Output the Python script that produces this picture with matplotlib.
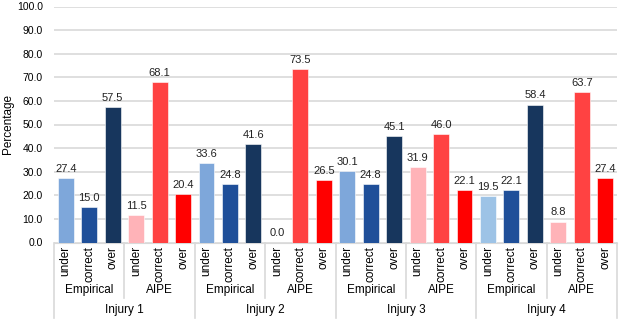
import matplotlib
matplotlib.use("Agg")
from matplotlib import pyplot as plt
import numpy as np

injuries = ["Injury 1", "Injury 2", "Injury 3", "Injury 4"]
methods = ["Empirical", "AIPE"]
outcomes = ["under", "correct", "over"]

empirical = [[27.4, 15.0, 57.5],
             [33.6, 24.8, 41.6],
             [30.1, 24.8, 45.1],
             [19.5, 22.1, 58.4]]
aipe = [[11.5, 68.1, 20.4],
        [0.0, 73.5, 26.5],
        [31.9, 46.0, 22.1],
        [8.8, 63.7, 27.4]]

emp_colors = ["#7ea7da", "#1f4f99", "#17365d"]
aipe_colors = ["#ffb3b8", "#ff4242", "#ff0000"]

plt.rcParams['font.family'] = ['Liberation Sans', 'DejaVu Sans']

fig = plt.figure(figsize=(6.23, 3.2), dpi=100)
ax = fig.add_axes([54/623, 1-242.5/320, 563/623, 236/320])

values = []
colors = []
for i in range(4):
    values += empirical[i] + aipe[i]
    c = list(emp_colors)
    if i == 3:
        c[0] = "#9dc3e6"
    colors += c + aipe_colors

x = np.arange(len(values))
ax.bar(x, values, width=0.68, color=colors, edgecolor="white", linewidth=0.4, zorder=3)
for xi, v in zip(x, values):
    ax.text(xi, v + 1.8, f"{v:.1f}", ha="center", va="bottom", fontsize=8, color="#222222")

ax.set_xlim(-0.5, len(values) - 0.5)
ax.set_ylim(0, 100)
ax.set_yticks(np.arange(0, 101, 10))
ax.set_yticklabels([f"{t:.1f}" for t in np.arange(0, 101, 10)], fontsize=7.5)
ax.yaxis.grid(True, color="#d9d9d9", linewidth=1.2, zorder=0)
ax.tick_params(axis="y", length=0, pad=8)
ax.set_xticks([])
for s in ["top", "right", "left"]:
    ax.spines[s].set_visible(False)
ax.spines["bottom"].set_color("#d9d9d9")
ax.set_ylabel("Percentage", fontsize=8.5)
ax.yaxis.set_label_coords(-0.071, 0.5)

tr = ax.get_xaxis_transform()
for xi in x:
    ax.text(xi, -0.015, outcomes[xi % 3], rotation=90, ha="center", va="top",
            fontsize=8.5, transform=tr)
for k in range(8):
    ax.text(3*k + 1, -0.201, methods[k % 2], ha="center", va="center",
            fontsize=8.5, transform=tr)
for k in range(4):
    ax.text(6*k + 2.5, -0.286, injuries[k], ha="center", va="center",
            fontsize=8.5, transform=tr)

lc = "#d9d9d9"
for k in range(5):
    ax.plot([6*k - 0.5, 6*k - 0.5], [0, -0.32], color=lc, lw=1.2,
            transform=tr, clip_on=False)
for k in range(4):
    ax.plot([6*k + 2.5, 6*k + 2.5], [0, -0.235], color=lc, lw=1.2,
            transform=tr, clip_on=False)

fig.savefig("out.png", dpi=100)
